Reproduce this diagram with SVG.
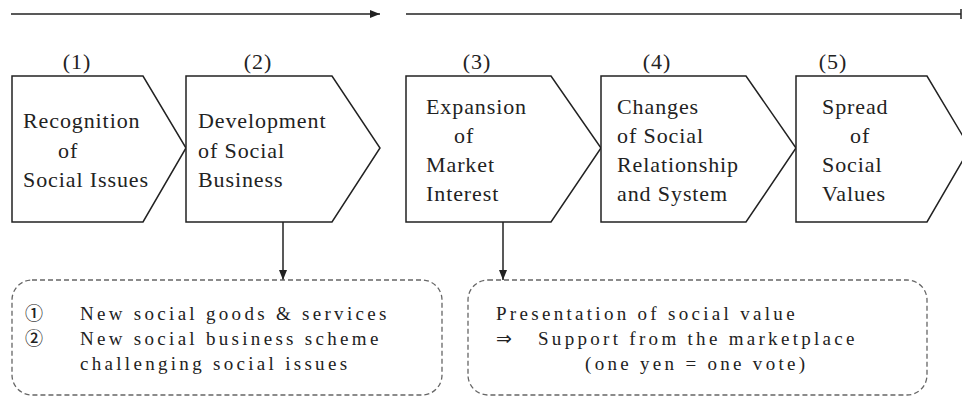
<svg xmlns="http://www.w3.org/2000/svg" width="962" height="405" viewBox="0 0 962 405">
<defs>
<marker id="ah" viewBox="0 0 10 8" refX="10" refY="4" markerWidth="10" markerHeight="8" markerUnits="userSpaceOnUse" orient="auto"><path d="M0,0 L10,4 L0,8 Z" fill="#222"/></marker>
<style>
.n{fill:#fff;stroke:#222;stroke-width:1.5}
.t{font-family:"Liberation Serif","Times New Roman",serif;font-size:22px;letter-spacing:0.9px;fill:#222}
.b{font-family:"Liberation Serif","Times New Roman",serif;font-size:19px;letter-spacing:3.3px;fill:#222}
.c{font-family:"Noto Sans CJK JP","DejaVu Sans",sans-serif;font-size:18px;font-weight:500;fill:#222}
.a{font-family:"DejaVu Sans",sans-serif;font-size:19px;fill:#222}
.d{fill:none;stroke:#666;stroke-width:1.3;stroke-dasharray:5 3}
.l{stroke:#222;stroke-width:1.5;fill:none}
</style>
</defs>
<rect width="962" height="405" fill="#fff"/>
<g id="connectors">
<line class="l" x1="11" y1="14" x2="380" y2="14" marker-end="url(#ah)"/>
<line class="l" x1="406" y1="14" x2="961" y2="14"/>
<line class="l" x1="961" y1="9" x2="961" y2="19"/>
<line class="l" x1="283" y1="222" x2="283" y2="280" marker-end="url(#ah)"/>
<line class="l" x1="503" y1="222" x2="503" y2="280" marker-end="url(#ah)"/>
</g>
<g id="node1">
<text class="t" x="77" y="69" text-anchor="middle">(1)</text>
<path class="n" d="M12,76 H143 L186,148 L143,222 H12 Z"/>
<text class="t" x="23" y="128">Recognition</text>
<text class="t" x="58" y="158">of</text>
<text class="t" x="23" y="187">Social Issues</text>
</g>
<g id="node2">
<text class="t" x="258" y="69" text-anchor="middle">(2)</text>
<path class="n" d="M186,76 H332 L380,148 L332,222 H186 Z"/>
<text class="t" x="198" y="128">Development</text>
<text class="t" x="198" y="158">of Social</text>
<text class="t" x="198" y="187">Business</text>
</g>
<g id="node3">
<text class="t" x="477" y="69" text-anchor="middle">(3)</text>
<path class="n" d="M406,76 H551 L601,148 L551,222 H406 Z"/>
<text class="t" x="426" y="114">Expansion</text>
<text class="t" x="454" y="143">of</text>
<text class="t" x="426" y="172">Market</text>
<text class="t" x="426" y="201">Interest</text>
</g>
<g id="node4">
<text class="t" x="657" y="69" text-anchor="middle">(4)</text>
<path class="n" d="M601,76 H746 L796,148 L746,222 H601 Z"/>
<text class="t" x="617" y="114">Changes</text>
<text class="t" x="617" y="143">of Social</text>
<text class="t" x="617" y="172">Relationship</text>
<text class="t" x="617" y="201">and System</text>
</g>
<g id="node5">
<text class="t" x="833" y="69" text-anchor="middle">(5)</text>
<path class="n" d="M796,76 H927 L970,148 L927,222 H796 Z"/>
<text class="t" x="822" y="114">Spread</text>
<text class="t" x="850" y="143">of</text>
<text class="t" x="822" y="172">Social</text>
<text class="t" x="822" y="201">Values</text>
</g>
<g id="box1">
<rect class="d" x="12" y="280" width="430" height="115" rx="20" ry="20"/>
<text class="c" x="25" y="320">①</text>
<text class="b" x="80" y="320">New social goods &amp; services</text>
<text class="c" x="25" y="345">②</text>
<text class="b" x="80" y="345">New social business scheme</text>
<text class="b" x="80" y="370">challenging social issues</text>
</g>
<g id="box2">
<rect class="d" x="468" y="280" width="459" height="115" rx="20" ry="20"/>
<text class="b" x="496" y="320">Presentation of social value</text>
<text class="a" x="496" y="345">⇒</text>
<text class="b" x="538" y="345">Support from the marketplace</text>
<text class="b" x="585" y="370">(one yen = one vote)</text>
</g>
</svg>
